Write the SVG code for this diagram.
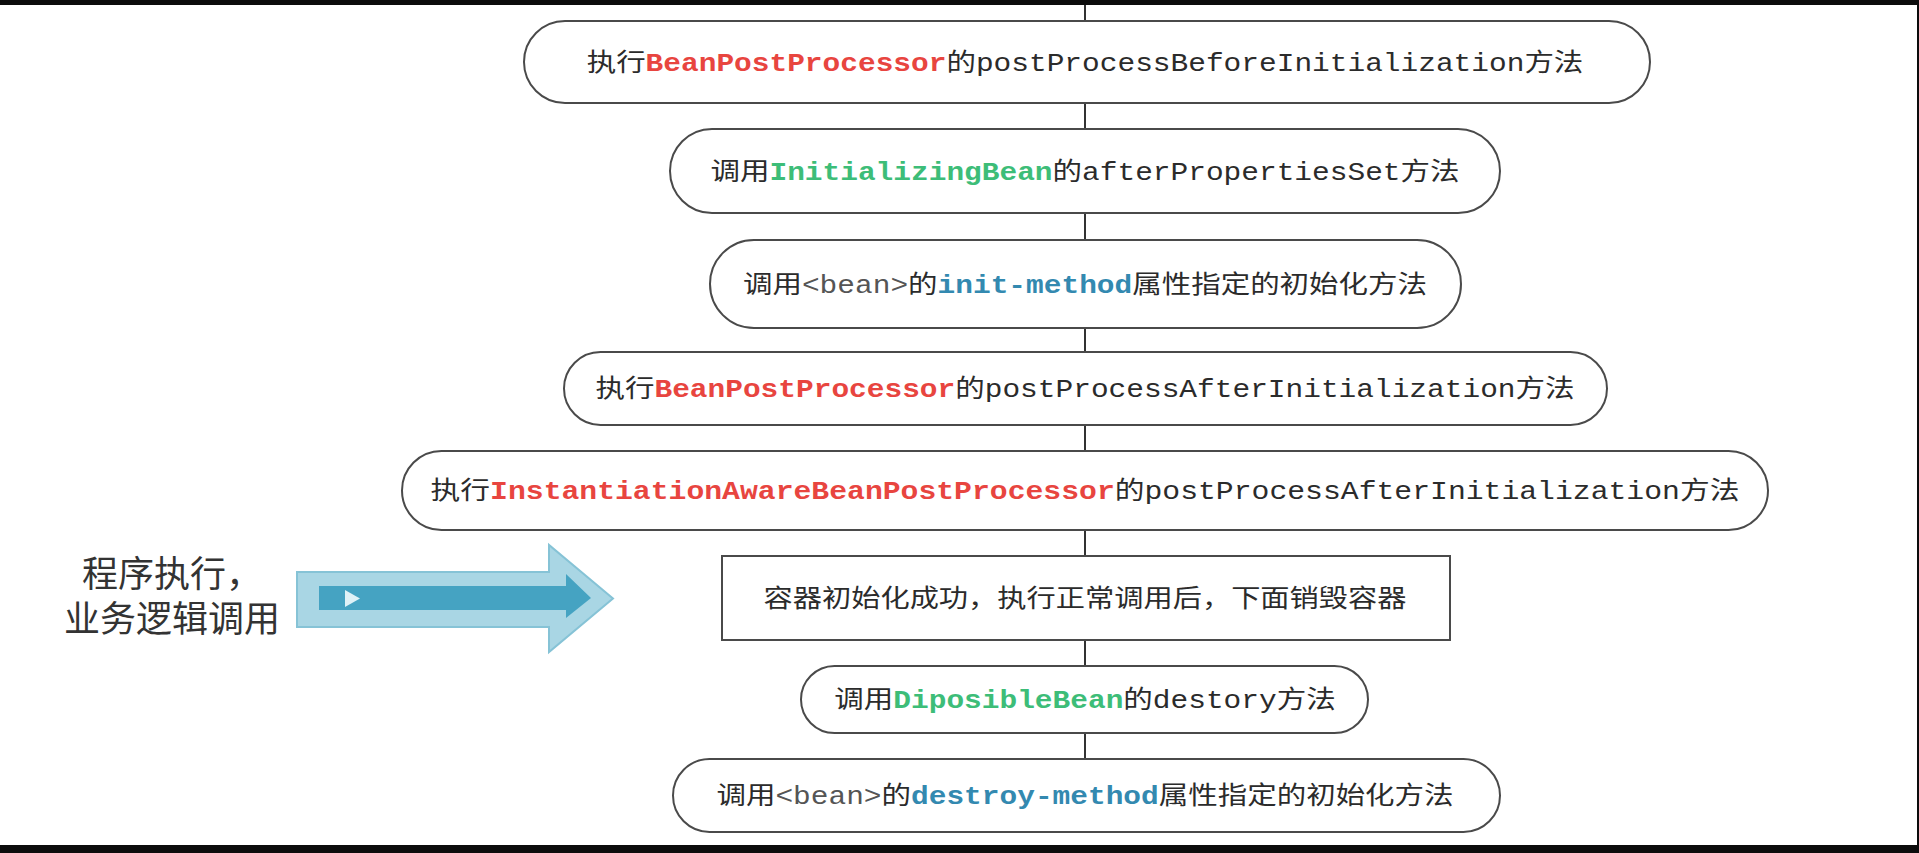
<svg xmlns="http://www.w3.org/2000/svg" width="1919" height="853" viewBox="0 0 1919 853">
  <style>
    .node { fill: #ffffff; stroke: #4a4a4a; stroke-width: 2; }
    .conn { stroke: #333333; stroke-width: 2; fill: none; }
    .t { font-family: "Liberation Mono", "Noto Sans CJK SC", monospace; font-size: 25px; fill: #2b2b2b; }
    .red { fill: #e8453f; font-weight: bold; }
    .green { fill: #3dbd78; font-weight: bold; }
    .teal { fill: #3389b0; font-weight: bold; }
    .gray { fill: #555555; }
    .cjk { font-family: "Noto Sans CJK SC", sans-serif; }
    .side { font-family: "Noto Sans CJK SC", sans-serif; font-size: 36px; fill: #333333; }
  </style>
  <rect x="0" y="0" width="1919" height="853" fill="#ffffff"/>
  <rect x="0" y="0" width="1919" height="5" fill="#0c0c0c"/>
  <rect x="0" y="845" width="1919" height="8" fill="#0c0c0c"/>
  <rect x="1917" y="0" width="2" height="853" fill="#0c0c0c"/>

  <g id="connectors">
    <line class="conn" x1="1085" y1="5" x2="1085" y2="21"/>
    <line class="conn" x1="1085" y1="103" x2="1085" y2="129"/>
    <line class="conn" x1="1085" y1="213" x2="1085" y2="240"/>
    <line class="conn" x1="1085" y1="328" x2="1085" y2="352"/>
    <line class="conn" x1="1085" y1="425" x2="1085" y2="451"/>
    <line class="conn" x1="1085" y1="530" x2="1085" y2="556"/>
    <line class="conn" x1="1085" y1="640" x2="1085" y2="666"/>
    <line class="conn" x1="1085" y1="733" x2="1085" y2="759"/>
  </g>

  <g id="node1">
    <rect class="node" x="524" y="21" width="1126" height="82" rx="41" ry="41"/>
    <text class="t" text-anchor="middle" transform="translate(1085,71) scale(1.18,1)"><tspan class="cjk">执行</tspan><tspan class="red">BeanPostProcessor</tspan><tspan class="cjk">的</tspan><tspan>postProcessBeforeInitialization</tspan><tspan class="cjk">方法</tspan></text>
  </g>

  <g id="node2">
    <rect class="node" x="670" y="129" width="830" height="84" rx="42" ry="42"/>
    <text class="t" text-anchor="middle" transform="translate(1085,180) scale(1.18,1)"><tspan class="cjk">调用</tspan><tspan class="green">InitializingBean</tspan><tspan class="cjk">的</tspan><tspan>afterPropertiesSet</tspan><tspan class="cjk">方法</tspan></text>
  </g>

  <g id="node3">
    <rect class="node" x="710" y="240" width="751" height="88" rx="44" ry="44"/>
    <text class="t" text-anchor="middle" transform="translate(1085,293) scale(1.18,1)"><tspan class="cjk">调用</tspan><tspan class="gray">&lt;bean&gt;</tspan><tspan class="cjk">的</tspan><tspan class="teal">init-method</tspan><tspan class="cjk">属性指定的初始化方法</tspan></text>
  </g>

  <g id="node4">
    <rect class="node" x="564" y="352" width="1043" height="73" rx="36.5" ry="36.5"/>
    <text class="t" text-anchor="middle" transform="translate(1085,397) scale(1.18,1)"><tspan class="cjk">执行</tspan><tspan class="red">BeanPostProcessor</tspan><tspan class="cjk">的</tspan><tspan>postProcessAfterInitialization</tspan><tspan class="cjk">方法</tspan></text>
  </g>

  <g id="node5">
    <rect class="node" x="402" y="451" width="1366" height="79" rx="39.5" ry="39.5"/>
    <text class="t" text-anchor="middle" transform="translate(1085,499) scale(1.19,1)"><tspan class="cjk">执行</tspan><tspan class="red">InstantiationAwareBeanPostProcessor</tspan><tspan class="cjk">的</tspan><tspan>postProcessAfterInitialization</tspan><tspan class="cjk">方法</tspan></text>
  </g>

  <g id="node6">
    <rect class="node" x="722" y="556" width="728" height="84"/>
    <text class="t cjk" text-anchor="middle" transform="translate(1085,607) scale(1.17,1)">容器初始化成功，执行正常调用后，下面销毁容器</text>
  </g>

  <g id="node7">
    <rect class="node" x="801" y="666" width="567" height="67" rx="33.5" ry="33.5"/>
    <text class="t" text-anchor="middle" transform="translate(1085,708) scale(1.18,1)"><tspan class="cjk">调用</tspan><tspan class="green">DiposibleBean</tspan><tspan class="cjk">的</tspan><tspan>destory</tspan><tspan class="cjk">方法</tspan></text>
  </g>

  <g id="node8">
    <rect class="node" x="673" y="759" width="827" height="73" rx="36.5" ry="36.5"/>
    <text class="t" text-anchor="middle" transform="translate(1085,804) scale(1.18,1)"><tspan class="cjk">调用</tspan><tspan class="gray">&lt;bean&gt;</tspan><tspan class="cjk">的</tspan><tspan class="teal">destroy-method</tspan><tspan class="cjk">属性指定的初始化方法</tspan></text>
  </g>

  <g id="side-label">
    <text class="side" text-anchor="middle"><tspan x="172" y="587">程序执行，</tspan><tspan x="172" y="632">业务逻辑调用</tspan></text>
  </g>

  <g id="flow-arrow">
    <polygon points="297,572 549,572 549,545 613,598.5 549,652 549,627 297,627" fill="#a9d6e4" stroke="#86c3d6" stroke-width="2"/>
    <polygon points="319,586 566,586 566,574 591,598 566,618 566,610 319,610" fill="#45a3c2"/>
    <polygon points="345,590 360,598.5 345,607" fill="#dff2f7"/>
  </g>
</svg>
